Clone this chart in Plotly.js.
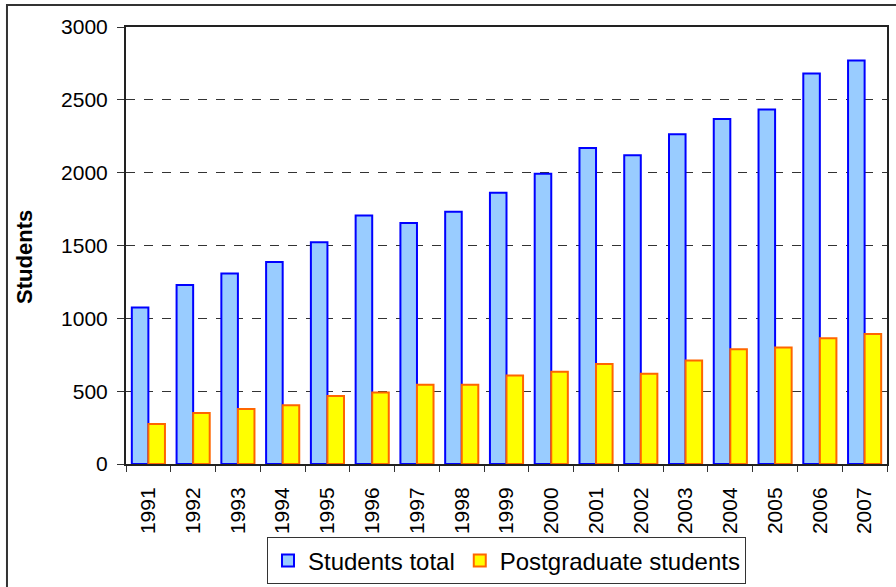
<!DOCTYPE html>
<html>
<head>
<meta charset="utf-8">
<script src="https://cdn.plot.ly/plotly-3.0.1.min.js"></script>
<style>
  html, body { margin: 0; padding: 0; background: #fff; }
  #chart { width: 896px; height: 587px; }
</style>
</head>
<body>
<div id="chart"></div>
<script>
const years = ["1991","1992","1993","1994","1995","1996","1997","1998","1999","2000","2001","2002","2003","2004","2005","2006","2007"];
const studentsTotal = [1074, 1229, 1308, 1387, 1522, 1706, 1654, 1731, 1862, 1992, 2170, 2120, 2264, 2369, 2434, 2680, 2770];
const postgraduate = [274, 350, 377, 404, 466, 491, 544, 544, 607, 633, 686, 619, 710, 788, 799, 864, 893];
const yTicks = [0, 500, 1000, 1500, 2000, 2500, 3000];
const yTitle = "Students";
const seriesNames = ["Students total", "Postgraduate students"];

const font = "Liberation Sans, Arial, sans-serif";

const traces = [
  {
    type: "bar", name: seriesNames[0], x: years, y: studentsTotal,
    marker: { color: "#99CCFF", line: { color: "#0000FF", width: 2 } }
  },
  {
    type: "bar", name: seriesNames[1], x: years, y: postgraduate,
    marker: { color: "#FFFF00", line: { color: "#FF6600", width: 2 } }
  }
];

const layout = {
  width: 896, height: 587,
  margin: { l: 126, r: 9, t: 27, b: 123, autoexpand: false },
  paper_bgcolor: "#fff", plot_bgcolor: "#fff",
  font: { family: font, color: "#000", size: 21 },
  barmode: "group", bargap: 0.26, bargroupgap: 0,
  showlegend: true,
  legend: {
    orientation: "h", x: 0.5, xanchor: "center", y: -0.168, yanchor: "top",
    bordercolor: "#333", borderwidth: 1, bgcolor: "#fff",
    font: { family: font, size: 24, color: "#000" },
    itemwidth: 30, tracegroupgap: 0
  },
  xaxis: {
    type: "category", tickangle: -90, tickson: "boundaries", automargin: false,
    ticks: "outside", ticklen: 6, tickcolor: "#333", tickwidth: 1,
    showline: true, linecolor: "#222", linewidth: 2, mirror: true,
    showgrid: false, tickfont: { family: font, size: 21 },
    ticklabelstandoff: 13
  },
  yaxis: {
    range: [0, 3000], tickvals: yTicks, ticktext: yTicks.map(String), automargin: false,
    ticks: "outside", ticklen: 7, tickcolor: "#333", tickwidth: 1,
    showline: true, linecolor: "#222", linewidth: 2, mirror: true,
    showgrid: true, gridcolor: "#333", gridwidth: 1, griddash: "dash",
    zeroline: false, tickfont: { family: font, size: 21 },
    ticklabelstandoff: 5
  },
  annotations: [{
    text: "<b>" + yTitle + "</b>", textangle: -90, showarrow: false,
    xref: "paper", yref: "paper", x: -0.1327, y: 0.474,
    xanchor: "center", yanchor: "middle",
    font: { family: font, size: 22, color: "#000" }
  }],
  shapes: [{
    type: "rect", xref: "paper", yref: "paper",
    x0: -0.1564, x1: 1.05, y0: -0.4, y1: 1.0503,
    line: { color: "#333", width: 2 }, fillcolor: "rgba(0,0,0,0)", layer: "below"
  }]
};

Plotly.newPlot("chart", traces, layout, { staticPlot: true, displayModeBar: false });
</script>
</body>
</html>
